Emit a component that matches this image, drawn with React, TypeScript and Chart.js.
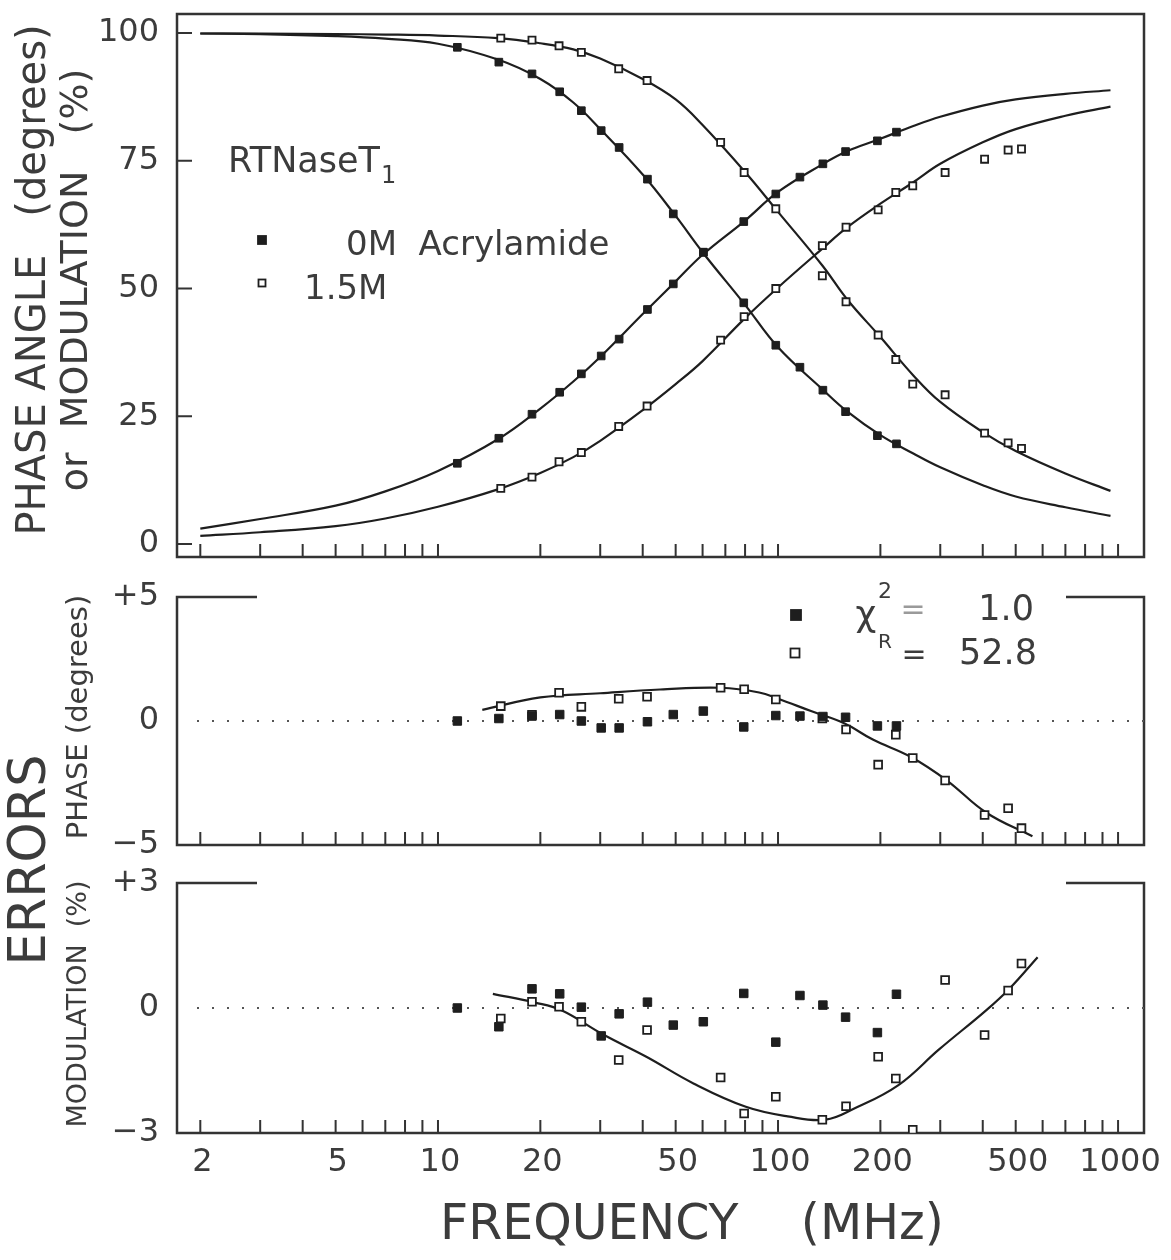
import React, { useEffect, useRef } from 'react';
import { Chart, registerables } from 'chart.js';

Chart.register(...registerables);

// ---------------- data ----------------
const X_MIN = 1.708;
const X_MAX = 1192;

// x-axis tick marks and labelled ticks (MHz)
const X_TICKS = [2, 3, 4, 5, 6, 7, 8, 9, 10, 20, 30, 40, 50, 60, 70, 80, 90, 100, 200, 300, 400, 500, 600, 700, 800, 900, 1000];
const X_LABELS = [2, 5, 10, 20, 50, 100, 200, 500, 1000];

// y ticks
const TOP_Y_TICKS = [0, 25, 50, 75, 100];
const MID_Y_TICKS = [5, 0, -5];
const MID_Y_LABELS = ['+5', '0', '\u22125'];
const BOT_Y_TICKS = [3, 0, -3];
const BOT_Y_LABELS = ['+3', '0', '\u22123'];

// 0 M acrylamide (filled symbols)
const FREQ_0M = [11.4, 15.1, 18.9, 22.8, 26.4, 30.2, 34.1, 41.3, 49.2, 60.3, 79.3, 98.5, 116, 135.5, 158, 196, 223];
const PHASE_0M = [15.8, 20.7, 25.4, 29.7, 33.3, 36.8, 40.1, 45.9, 50.9, 57.1, 63.1, 68.5, 71.8, 74.4, 76.8, 78.9, 80.6];
const MOD_0M = [97.2, 94.3, 92.0, 88.5, 84.8, 80.9, 77.6, 71.4, 64.6, 57.1, 47.2, 38.9, 34.6, 30.1, 25.9, 21.2, 19.6];
const PHASE_ERR_0M = [0.0, 0.1, 0.2, 0.26, 0.0, -0.28, -0.28, -0.03, 0.26, 0.4, -0.24, 0.22, 0.2, 0.18, 0.15, -0.2, -0.2];
const MOD_ERR_0M = [0.0, -0.45, 0.46, 0.34, 0.02, -0.67, -0.14, 0.14, -0.41, -0.33, 0.35, -0.82, 0.3, 0.07, -0.22, -0.59, 0.33];

// 1.5 M acrylamide (open symbols)
const FREQ_15M = [15.3, 18.9, 22.7, 26.4, 34.0, 41.2, 67.8, 79.5, 98.5, 135, 158.5, 197, 222, 249, 310, 405, 475, 520];
const PHASE_15M = [10.9, 13.1, 16.1, 17.9, 23.0, 27.0, 39.9, 44.5, 50.0, 58.4, 62.0, 65.4, 68.8, 70.1, 72.7, 75.3, 77.1, 77.3];
const MOD_15M = [99.0, 98.6, 97.5, 96.2, 93.0, 90.7, 78.6, 72.7, 65.6, 52.5, 47.4, 40.9, 36.1, 31.3, 29.2, 21.7, 19.8, 18.7];
const PHASE_ERR_15M = [0.6, 0.25, 1.14, 0.57, 0.9, 0.98, 1.34, 1.28, 0.87, 0.1, -0.34, -1.76, -0.55, -1.49, -2.4, -3.79, -3.52, -4.32];
const MOD_ERR_15M = [-0.25, 0.15, 0.03, -0.33, -1.25, -0.53, -1.67, -2.53, -2.13, -2.68, -2.36, -1.17, -1.69, -2.92, 0.67, -0.65, 0.42, 1.07];

// fitted curves
const FIT_FREQ = [2, 3, 5, 7, 10, 15, 20, 25, 30, 40, 50, 60, 80, 100, 135, 160, 200, 250, 300, 400, 500, 700, 950];
const FIT_PHASE_0M = [3.0, 4.9, 7.5, 10.3, 14.3, 20.5, 26.5, 31.8, 36.6, 45.0, 51.4, 56.6, 63.3, 68.9, 74.3, 76.9, 79.3, 81.8, 83.6, 85.8, 87.0, 88.1, 88.8];
const FIT_MOD_0M = [99.9, 99.8, 99.4, 98.9, 97.9, 94.8, 91.0, 86.4, 81.2, 72.3, 64.2, 57.1, 46.8, 38.5, 30.3, 25.9, 21.3, 17.7, 15.0, 11.5, 9.3, 7.2, 5.5];
const FIT_PHASE_15M = [1.6, 2.3, 3.5, 5.0, 7.3, 10.7, 13.9, 17.0, 20.2, 26.2, 31.3, 35.8, 44.2, 50.2, 57.8, 62.0, 66.6, 70.8, 74.4, 78.6, 81.2, 83.8, 85.6];
const FIT_MOD_15M = [99.9, 99.9, 99.8, 99.7, 99.5, 99.0, 98.0, 96.8, 95.0, 91.0, 87.0, 82.0, 72.8, 65.0, 54.5, 47.8, 40.5, 33.0, 27.8, 21.9, 18.2, 13.8, 10.4];

const MID_FIT_F = [13.5, 20, 30, 45, 68, 88, 100, 125, 157, 190, 246, 314, 410, 560];
const MID_FIT_V = [0.45, 0.95, 1.12, 1.27, 1.34, 1.15, 0.9, 0.4, -0.1, -0.75, -1.45, -2.4, -3.7, -4.65];
const BOT_FIT_F = [14.5, 19.3, 23, 30.8, 41, 56.4, 80.4, 106.8, 138, 167, 226, 297, 410, 480, 580];
const BOT_FIT_V = [0.34, 0.13, -0.05, -0.65, -1.17, -1.81, -2.37, -2.6, -2.68, -2.42, -1.85, -1.0, -0.05, 0.47, 1.22];

// ---------------- style ----------------
const W = 1171;
const H = 1260;
const INK = '#1e1e1e';
const TXT = '#3c3c3c';
const SANS = '"DejaVu Sans", sans-serif';
const LEFT = 177;
const RIGHT = 1144;

const pts = (xs: number[], ys: number[]) => xs.map((x, i) => ({ x, y: ys[i] }));
const fitDs = (xs: number[], ys: number[]) => ({
  data: pts(xs, ys), borderColor: INK, borderWidth: 2.2, pointRadius: 0, fill: false,
  tension: 0.4, order: 2,
});
const filledDs = (xs: number[], ys: number[], r: number) => ({
  data: pts(xs, ys), showLine: false, pointStyle: 'rect' as const, pointRadius: r,
  backgroundColor: INK, borderColor: INK, borderWidth: 1, order: 1,
});
const openDs = (xs: number[], ys: number[], r: number) => ({
  data: pts(xs, ys), showLine: false, pointStyle: 'rect' as const, pointRadius: r,
  backgroundColor: '#ffffff', borderColor: INK, borderWidth: 1.8, order: 1,
});

function text(ctx: CanvasRenderingContext2D, s: string, x: number, y: number, size: number,
  align: CanvasTextAlign = 'left', rot = 0, weight = 'normal', baseline: CanvasTextBaseline = 'middle', color = TXT) {
  ctx.save();
  ctx.translate(x, y);
  if (rot) ctx.rotate(rot);
  ctx.font = `${weight} ${size}px ${SANS}`;
  ctx.fillStyle = color;
  ctx.textAlign = align;
  ctx.textBaseline = baseline;
  ctx.fillText(s, 0, 0);
  ctx.restore();
}

function square(ctx: CanvasRenderingContext2D, x: number, y: number, side: number, filled: boolean) {
  ctx.save();
  ctx.strokeStyle = INK;
  ctx.fillStyle = filled ? INK : '#fff';
  ctx.lineWidth = 1.8;
  ctx.fillRect(x - side / 2, y - side / 2, side, side);
  ctx.strokeRect(x - side / 2, y - side / 2, side, side);
  ctx.restore();
}

type Extra = (ctx: CanvasRenderingContext2D, chart: any) => void;

function panelPlugin(opts: {
  frame: 'full' | 'open';
  yTicks: number[];
  yLabels: string[];
  yTickMarks: boolean;
  zeroLine: boolean;
  xLabels: boolean;
  extra: Extra;
}) {
  return {
    id: 'panel',
    beforeDatasetsDraw(chart: any) {
      const ctx: CanvasRenderingContext2D = chart.ctx;
      const { left, right, top, bottom } = chart.chartArea;
      const xs = chart.scales.x;
      const ys = chart.scales.y;
      ctx.save();
      ctx.strokeStyle = '#333';
      ctx.lineWidth = 2.5;
      ctx.beginPath();
      if (opts.frame === 'full') {
        ctx.rect(left, top, right - left, bottom - top);
      } else {
        ctx.moveTo(left + 80, top);
        ctx.lineTo(left, top);
        ctx.lineTo(left, bottom);
        ctx.lineTo(right, bottom);
        ctx.lineTo(right, top);
        ctx.lineTo(right - 78, top);
      }
      ctx.stroke();
      // x tick marks (inward)
      ctx.lineWidth = 2;
      ctx.beginPath();
      X_TICKS.forEach((v) => {
        const px = xs.getPixelForValue(v);
        ctx.moveTo(px, bottom);
        ctx.lineTo(px, bottom - 13);
      });
      if (opts.yTickMarks) {
        opts.yTicks.forEach((v) => {
          const py = ys.getPixelForValue(v);
          ctx.moveTo(left, py);
          ctx.lineTo(left + 15, py);
        });
      }
      ctx.stroke();
      if (opts.zeroLine) {
        ctx.strokeStyle = '#555';
        ctx.lineWidth = 2;
        ctx.setLineDash([2, 13]);
        const py = ys.getPixelForValue(0);
        ctx.beginPath();
        ctx.moveTo(left + 20, py);
        ctx.lineTo(right, py);
        ctx.stroke();
        ctx.setLineDash([]);
      }
      ctx.restore();
    },
    afterDatasetsDraw(chart: any) {
      const ctx: CanvasRenderingContext2D = chart.ctx;
      const { bottom } = chart.chartArea;
      const xs = chart.scales.x;
      const ys = chart.scales.y;
      opts.yTicks.forEach((v, i) => {
        text(ctx, opts.yLabels[i], 159, ys.getPixelForValue(v), 32, 'right');
      });
      if (opts.xLabels) {
        X_LABELS.forEach((v) => {
          text(ctx, String(v), xs.getPixelForValue(v) + 2, bottom + 30, 32, 'center');
        });
      }
      opts.extra(ctx, chart);
    },
  };
}

const topExtra: Extra = (ctx) => {
  text(ctx, 'PHASE ANGLE   (degrees)', 35, 280, 40, 'center', -Math.PI / 2);
  text(ctx, 'or  MODULATION   (%)', 77, 280, 38, 'center', -Math.PI / 2);
  ctx.save();
  ctx.font = `normal 35px ${SANS}`;
  const w = ctx.measureText('RTNaseT').width;
  ctx.restore();
  text(ctx, 'RTNaseT', 228, 172, 35, 'left', 0, 'normal', 'alphabetic');
  text(ctx, '1', 228 + w + 1, 183, 24, 'left', 0, 'normal', 'alphabetic');
  square(ctx, 262, 240, 8, true);
  square(ctx, 262, 283, 7, false);
  text(ctx, '0M  Acrylamide', 346, 246, 34, 'left');
  text(ctx, '1.5M', 304, 290, 34, 'left');
};

const midExtra: Extra = (ctx) => {
  text(ctx, 'ERRORS', 32, 860, 51, 'center', -Math.PI / 2);
  text(ctx, 'PHASE (degrees)', 79, 717, 29, 'center', -Math.PI / 2);
  square(ctx, 796, 615, 10, true);
  square(ctx, 795, 653, 9, false);
  text(ctx, '\u03c7', 866, 626, 36, 'center', 0, 'normal', 'alphabetic');
  text(ctx, '2', 885, 592, 22, 'center');
  text(ctx, 'R', 885, 643, 20, 'center');
  text(ctx, '=', 913, 611, 30, 'center', 0, 'normal', 'middle', '#9a9a9a');
  text(ctx, '1.0', 1034, 611, 35, 'right');
  text(ctx, '=', 914, 656, 30, 'center');
  text(ctx, '52.8', 1037, 655, 35, 'right');
};

const botExtra: Extra = (ctx) => {
  text(ctx, 'MODULATION  (%)', 79, 1004, 27, 'center', -Math.PI / 2);
  text(ctx, 'FREQUENCY    (MHz)', 440, 1226, 49, 'left');
};

function usePanel(ref: React.RefObject<HTMLCanvasElement>, cfg: any) {
  useEffect(() => {
    if (!ref.current) return;
    const chart = new Chart(ref.current, cfg);
    return () => chart.destroy();
  }, []);
}

function makeConfig(datasets: any[], yMin: number, yMax: number, top: number, bottom: number, plugin: any) {
  return {
    type: 'line',
    data: { datasets },
    options: {
      responsive: false,
      animation: false,
      devicePixelRatio: 1,
      layout: { padding: { left: LEFT, right: W - RIGHT, top, bottom: H - bottom } },
      plugins: { legend: { display: false }, tooltip: { enabled: false }, title: { display: false } },
      scales: {
        x: { type: 'logarithmic', min: X_MIN, max: X_MAX, display: false },
        y: { type: 'linear', min: yMin, max: yMax, display: false },
      },
    },
    plugins: [plugin],
  };
}

export default function App() {
  const r1 = useRef<HTMLCanvasElement>(null);
  const r2 = useRef<HTMLCanvasElement>(null);
  const r3 = useRef<HTMLCanvasElement>(null);

  usePanel(r1, makeConfig([
    fitDs(FIT_FREQ, FIT_PHASE_0M),
    fitDs(FIT_FREQ, FIT_MOD_0M),
    fitDs(FIT_FREQ, FIT_PHASE_15M),
    fitDs(FIT_FREQ, FIT_MOD_15M),
    filledDs(FREQ_0M, PHASE_0M, 5.4),
    filledDs(FREQ_0M, MOD_0M, 5.4),
    openDs(FREQ_15M, PHASE_15M, 5),
    openDs(FREQ_15M, MOD_15M, 5),
  ], -2.54, 103.72, 14, 557, panelPlugin({
    frame: 'full', yTicks: TOP_Y_TICKS, yLabels: TOP_Y_TICKS.map(String), yTickMarks: true,
    zeroLine: false, xLabels: false, extra: topExtra,
  })));

  usePanel(r2, makeConfig([
    fitDs(MID_FIT_F, MID_FIT_V),
    filledDs(FREQ_0M, PHASE_ERR_0M, 6),
    openDs(FREQ_15M, PHASE_ERR_15M, 5.5),
  ], -5, 5, 597, 845, panelPlugin({
    frame: 'open', yTicks: MID_Y_TICKS, yLabels: MID_Y_LABELS, yTickMarks: false,
    zeroLine: true, xLabels: false, extra: midExtra,
  })));

  usePanel(r3, makeConfig([
    fitDs(BOT_FIT_F, BOT_FIT_V),
    filledDs(FREQ_0M, MOD_ERR_0M, 6),
    openDs(FREQ_15M, MOD_ERR_15M, 5.5),
  ], -3, 3, 883, 1133, panelPlugin({
    frame: 'open', yTicks: BOT_Y_TICKS, yLabels: BOT_Y_LABELS, yTickMarks: false,
    zeroLine: true, xLabels: true, extra: botExtra,
  })));

  const cs: React.CSSProperties = { position: 'absolute', left: 0, top: 0, width: W, height: H };
  return (
    <div style={{ position: 'absolute', left: 0, top: 0, width: W, height: H, background: '#fff' }}>
      <canvas ref={r1} width={W} height={H} style={cs} />
      <canvas ref={r2} width={W} height={H} style={cs} />
      <canvas ref={r3} width={W} height={H} style={cs} />
    </div>
  );
}
